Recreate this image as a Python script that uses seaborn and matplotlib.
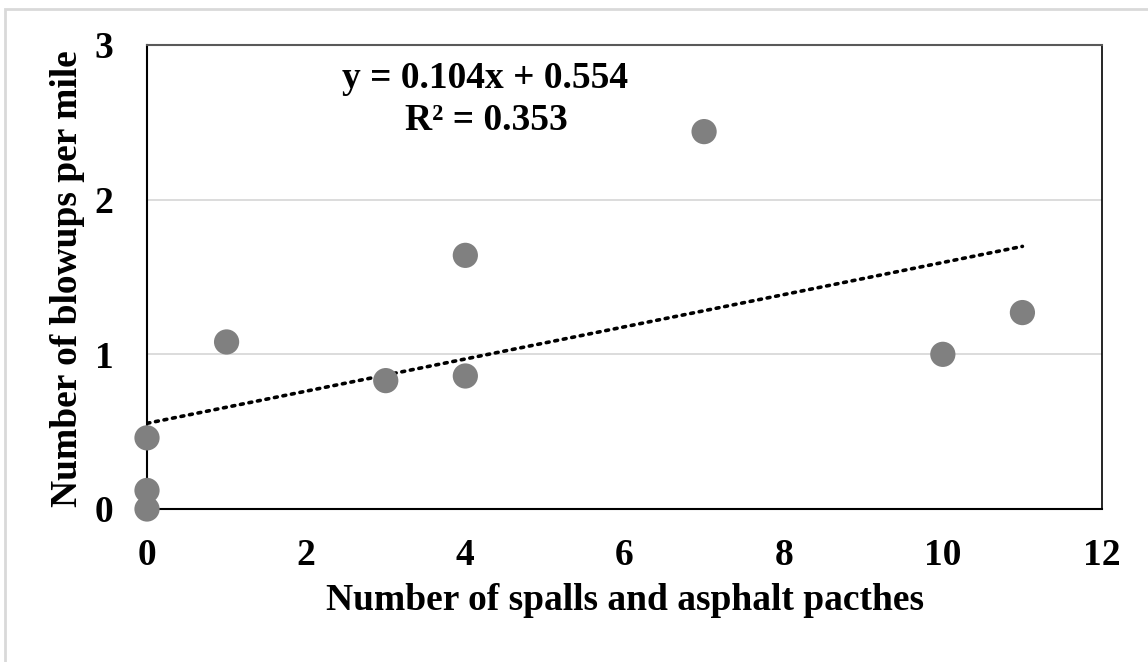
import matplotlib
matplotlib.use("Agg")
import matplotlib.pyplot as plt
import seaborn as sns
import numpy as np
import pandas as pd
from matplotlib.patches import Rectangle

# Data
spalls = [0, 0, 0, 1, 3, 4, 4, 7, 10, 11]
blowups = [0.0, 0.12, 0.46, 1.08, 0.83, 0.86, 1.64, 2.44, 1.00, 1.27]
slope = 0.104
intercept = 0.554
r_squared = 0.353
x_ticks = [0, 2, 4, 6, 8, 10, 12]
y_ticks = [0, 1, 2, 3]

df = pd.DataFrame({"spalls": spalls, "blowups": blowups})

sns.set_theme(style="white")
plt.rcParams['font.family'] = ['Liberation Serif', 'DejaVu Serif']
plt.rcParams['font.weight'] = 'bold'
for key in ["text.color", "axes.labelcolor", "xtick.color", "ytick.color"]:
    plt.rcParams[key] = "black"

FS = 27

fig = plt.figure(figsize=(11.48, 6.62), dpi=100)
ax = fig.add_axes([147/1148, 1 - 509/662, (1102-147)/1148, (509-45)/662])

# gridlines
for yv in y_ticks[1:]:
    ax.axhline(yv, color="#d9d9d9", lw=1.3, zorder=0)

# trendline
xl = np.array([min(spalls), max(spalls)])
ax.plot(xl, slope * xl + intercept, color="black", lw=2.6, ls=(0, (0.8, 1.6)),
        dash_capstyle="round", zorder=2)

sns.scatterplot(data=df, x="spalls", y="blowups", ax=ax, s=330, color="#808080",
                edgecolor="none", linewidth=0, zorder=3, clip_on=False)

ax.set_xlim(0, 12)
ax.set_ylim(0, 3)
ax.set_xticks(x_ticks)
ax.set_yticks(y_ticks)
ax.set_xticklabels([str(v) for v in x_ticks], fontsize=FS, fontweight="bold")
ax.set_yticklabels([str(v) for v in y_ticks], fontsize=FS, fontweight="bold")
ax.tick_params(axis="x", length=0, pad=21)
ax.tick_params(axis="y", length=0, pad=24)

for side in ["left", "bottom", "right"]:
    ax.spines[side].set_color("black")
    ax.spines[side].set_linewidth(1.5)
ax.spines["right"].set_linewidth(1.2)
ax.spines["top"].set_color("#595959")
ax.spines["top"].set_linewidth(1.5)

ax.set_xlabel("Number of spalls and asphalt pacthes", fontsize=FS, fontweight="bold")
ax.set_ylabel("Number of blowups per mile", fontsize=FS, fontweight="bold")
ax.xaxis.set_label_coords(625/1148, 1 - 600/662, transform=fig.transFigure)
ax.yaxis.set_label_coords(68/1148, 1 - 279/662, transform=fig.transFigure)
ax.xaxis.label.set_va("center")
ax.yaxis.label.set_va("center")

ax.text(485/1148, 1 - 79/662, f"y = {slope:.3f}x + {intercept:.3f}", transform=fig.transFigure,
        ha="center", va="center", fontsize=FS, fontweight="bold")
ax.text(486/1148, 1 - 121/662, f"R² = {r_squared:.3f}", transform=fig.transFigure,
        ha="center", va="center", fontsize=FS, fontweight="bold")

fig.patches.append(Rectangle((5/1148, -0.01), 1.02, 1 - 9/662 + 0.01, transform=fig.transFigure,
                             fill=False, edgecolor="#d9d9d9", lw=2.0))

fig.savefig("out.png", dpi=100)
